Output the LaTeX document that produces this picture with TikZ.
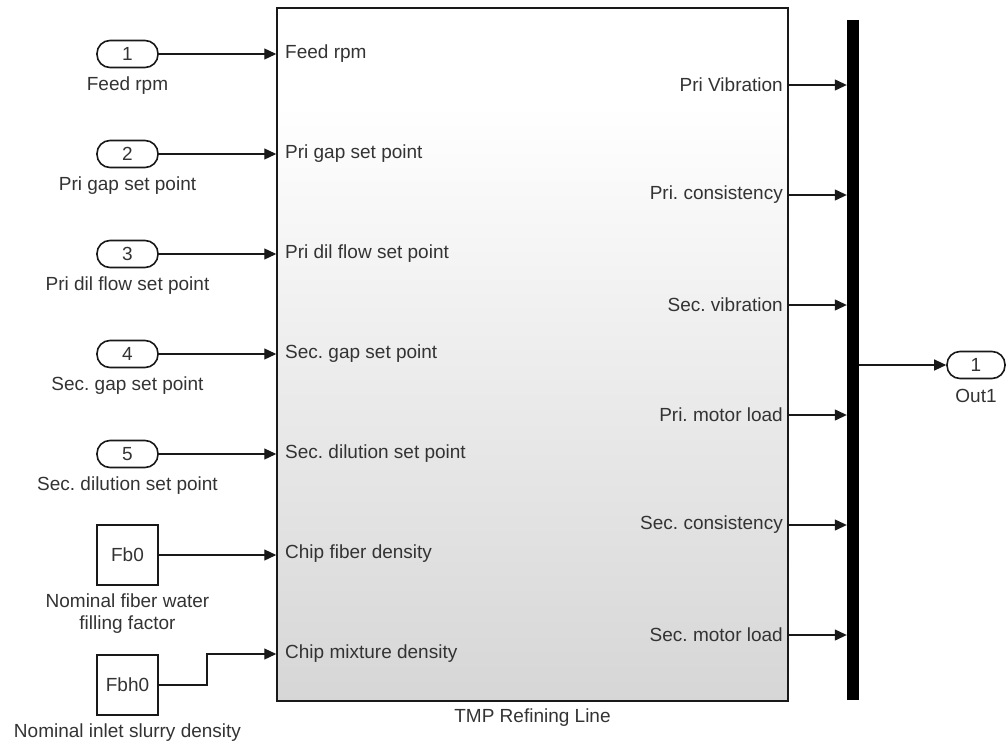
\documentclass[tikz,border=0pt]{standalone}
\usepackage{fontspec}
\setmainfont{Liberation Sans}
\frenchspacing
\usetikzlibrary{arrows.meta}
\pgfdeclareverticalshading{simgrad}{100bp}{color(0bp)=(black!16); color(25bp)=(black!16); color(50bp)=(black!7); color(68bp)=(white); color(100bp)=(white)}
\tikzset{
  txt/.style={text=black!80, font=\fontsize{19}{22}\selectfont\frenchspacing, inner sep=0pt},
  port/.style={draw=black!90, line width=1.6pt, rounded corners=13pt, minimum width=61pt, minimum height=27pt, txt, fill=white},
  const/.style={draw=black!90, line width=1.4pt, minimum width=61pt, minimum height=60pt, txt, fill=white},
  sig/.style={line width=1.2pt, draw=black!90, -{Triangle[length=12pt,width=11pt]}},
  plain/.style={line width=1.2pt, draw=black!90},
}
\begin{document}
\begin{tikzpicture}[x=1pt,y=-1pt]
\useasboundingbox (0,0) rectangle (1008,744);
% subsystem
\node[draw=black!90, line width=1.5pt, shading=simgrad, minimum width=511pt, minimum height=693pt, inner sep=0pt] (sys) at (532.5,354.5) {};
\node[txt] (sysl) at (532.5,718) {TMP Refining Line};
% bus
\node[fill=black, minimum width=12pt, minimum height=680pt, inner sep=0pt] (bus) at (853,360) {};
% inports
\foreach \i/\y/\lab in {1/54/Feed rpm, 2/154/Pri gap set point, 3/254/Pri dil flow set point, 4/354/Sec. gap set point, 5/454/Sec. dilution set point}{
  \node[port] (in\i) at (127.5,\y) {\i};
  \node[txt] (inl\i) at (127.5,\y+32) {\lab};
  \draw[sig] (in\i.east) -- (in\i.east -| sys.west);
  \node[txt, anchor=west] (pl\i) at (285,\y) {\lab};
}
% constants
\node[const] (c1) at (127.5,555) {Fb0};
\node[txt, align=center] (c1l) at (127.5,614) {Nominal fiber water\\[0pt]filling factor};
\node[const] (c2) at (127.5,685) {Fbh0};
\node[txt] (c2l) at (127.5,733) {Nominal inlet slurry density};
\draw[sig] (c1.east) -- (c1.east -| sys.west);
\coordinate (k1) at (207,685);
\coordinate (k2) at (207,654);
\draw[sig] (c2.east) -- (k1) -- (k2) -- (k2 -| sys.west);
\node[txt, anchor=west] (pl6) at (285,554) {Chip fiber density};
\node[txt, anchor=west] (pl7) at (285,654) {Chip mixture density};
% outputs
\foreach \j/\y/\lab in {1/85/Pri Vibration, 2/195/Pri. consistency, 3/305/Sec. vibration, 4/415/Pri. motor load, 5/525/Sec. consistency, 6/635/Sec. motor load}{
  \coordinate (o\j) at (788,\y);
  \node[txt, anchor=east] (ol\j) at (783,\y) {\lab};
  \draw[sig] (o\j) -- (o\j -| bus.west);
}
% outport
\node[port, minimum width=58pt] (out1) at (976,365) {1};
\node[txt] (out1l) at (976,396) {Out1};
\draw[sig] (bus.east |- out1) -- (out1.west);
\end{tikzpicture}
\end{document}
